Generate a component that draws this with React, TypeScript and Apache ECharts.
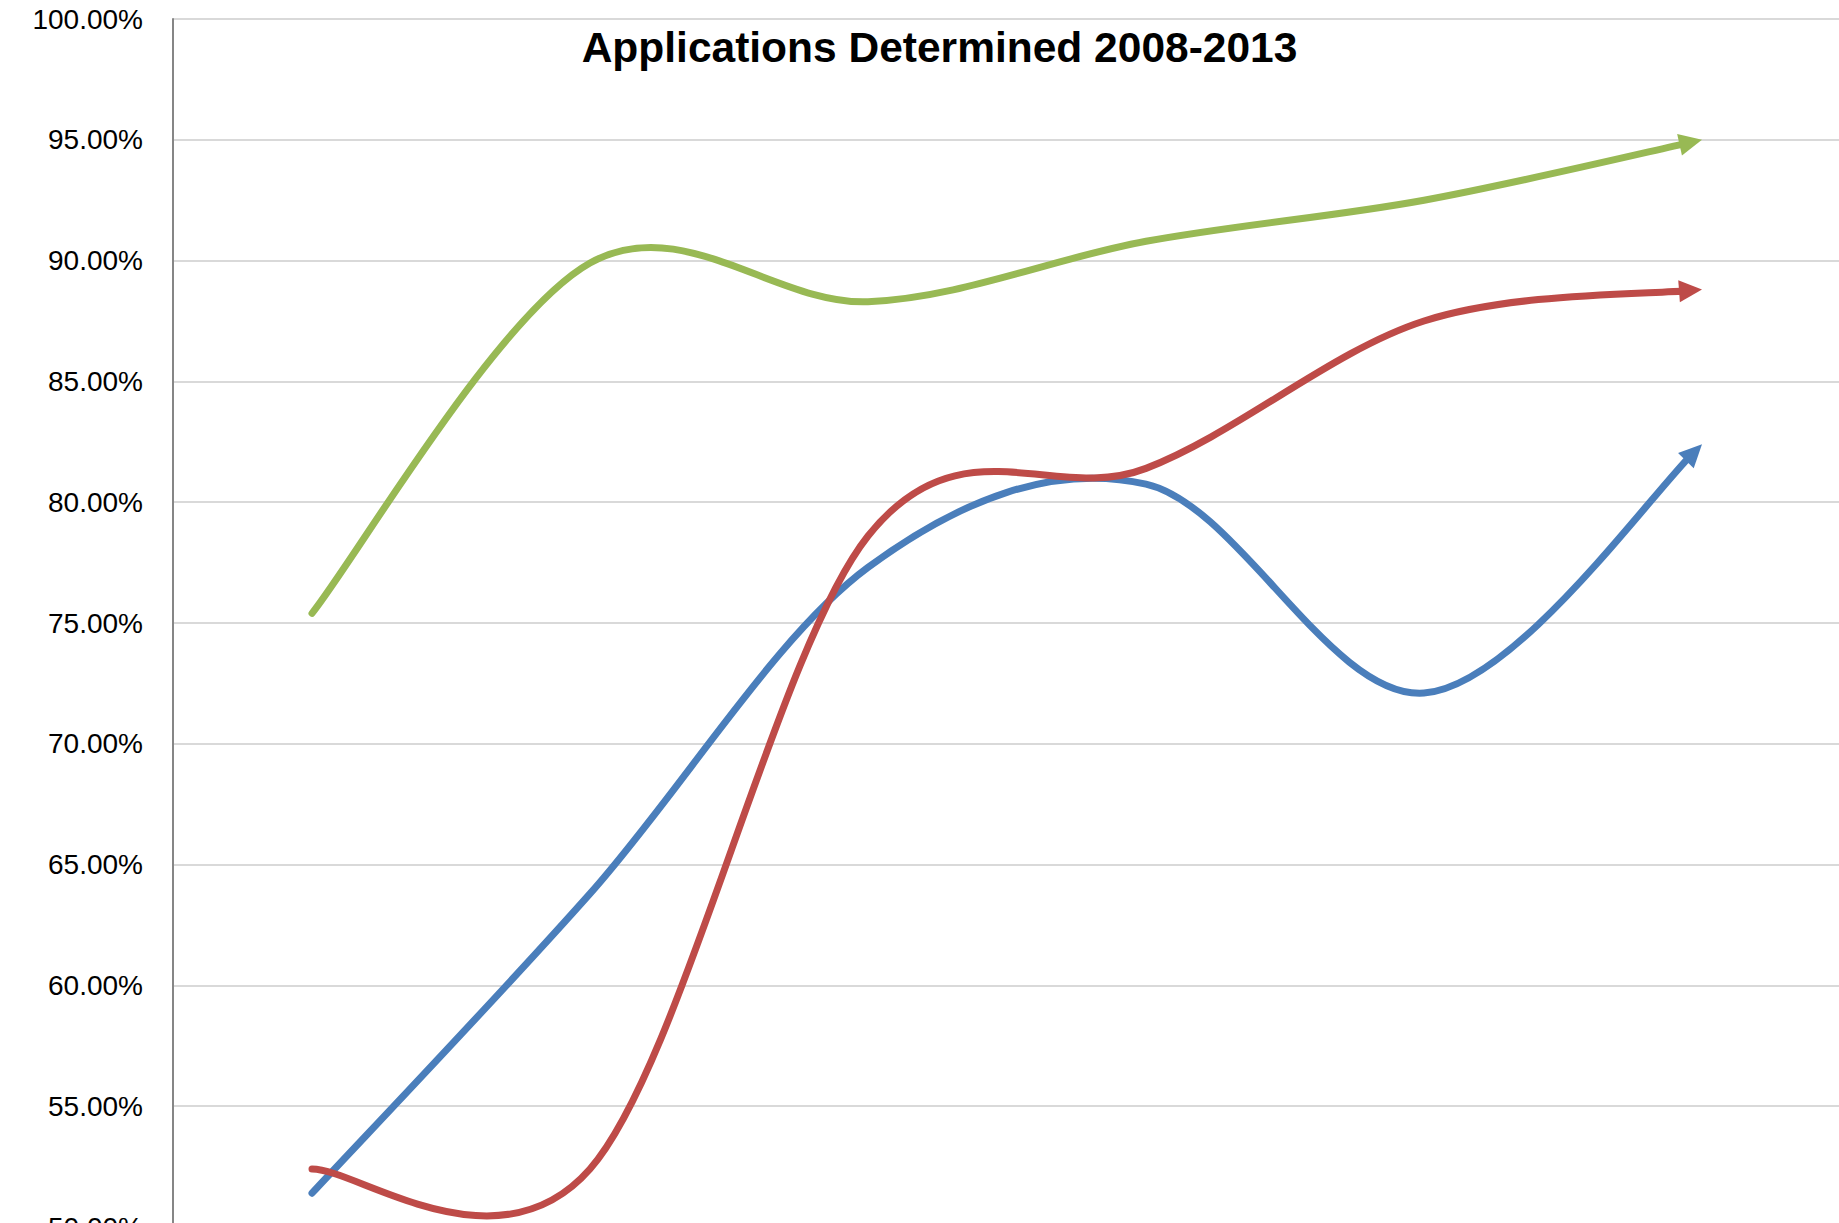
import React, { useEffect, useRef } from "react";
import * as echarts from "echarts";

// ---------- data ----------
const years = ["2008", "2009", "2010", "2011", "2012", "2013"];
const seriesNames = ["Series1", "Series2", "Series3"];
const blueValues = [51.4, 63.8, 77.3, 80.75, 72.1, 82.4];
const redValues = [52.4, 52.4, 78.6, 81.4, 87.5, 88.8];
const greenValues = [75.4, 89.9, 88.3, 90.8, 92.5, 95.0];
const yMin = 50;
const yMax = 100;
const yStep = 5;
const titleText = "Applications Determined 2008-2013";

// ---------- styles ----------
const COLORS = ["#4A7EBB", "#BE4B48", "#98B954"];
const LINE_W = 7;
const ARROW_LEN = 23;
const ARROW_W = 22;

type P = [number, number];
type Seg = [P, P, P, P];

function catmullSegments(pts: P[]): Seg[] {
  const segs: Seg[] = [];
  for (let i = 0; i < pts.length - 1; i++) {
    const p0 = pts[Math.max(i - 1, 0)];
    const p1 = pts[i];
    const p2 = pts[i + 1];
    const p3 = pts[Math.min(i + 2, pts.length - 1)];
    const c1: P = [p1[0] + (p2[0] - p0[0]) / 6, p1[1] + (p2[1] - p0[1]) / 6];
    const c2: P = [p2[0] - (p3[0] - p1[0]) / 6, p2[1] - (p3[1] - p1[1]) / 6];
    segs.push([p1, c1, c2, p2]);
  }
  return segs;
}

function lerp(a: P, b: P, t: number): P {
  return [a[0] + (b[0] - a[0]) * t, a[1] + (b[1] - a[1]) * t];
}

function bezAt(s: Seg, t: number): P {
  const a = lerp(s[0], s[1], t);
  const b = lerp(s[1], s[2], t);
  const c = lerp(s[2], s[3], t);
  const d = lerp(a, b, t);
  const e = lerp(b, c, t);
  return lerp(d, e, t);
}

function splitFirst(s: Seg, t: number): Seg {
  const a = lerp(s[0], s[1], t);
  const b = lerp(s[1], s[2], t);
  const c = lerp(s[2], s[3], t);
  const d = lerp(a, b, t);
  const e = lerp(b, c, t);
  const f = lerp(d, e, t);
  return [s[0], a, d, f];
}

function dist(a: P, b: P) {
  return Math.hypot(a[0] - b[0], a[1] - b[1]);
}

function findT(s: Seg, tip: P, d: number) {
  for (let t = 1; t >= 0; t -= 0.002) {
    if (dist(bezAt(s, t), tip) >= d) return t;
  }
  return 0;
}

function makeRenderItem(values: number[], color: string) {
  return (params: any, api: any) => {
    if (params.dataIndex !== 0) return null;
    const pts: P[] = values.map((v, i) => api.coord([i, v]) as P);
    const segs = catmullSegments(pts);
    const last = segs[segs.length - 1];
    const tip = last[3];
    const tBack = findT(last, tip, ARROW_LEN);
    const tCut = findT(last, tip, ARROW_LEN * 0.55);
    const back = bezAt(last, tBack);
    const len = dist(tip, back) || 1;
    const ux = (tip[0] - back[0]) / len;
    const uy = (tip[1] - back[1]) / len;
    const bx = tip[0] - ux * ARROW_LEN;
    const by = tip[1] - uy * ARROW_LEN;
    const px = -uy * (ARROW_W / 2);
    const py = ux * (ARROW_W / 2);

    let d = `M${pts[0][0]},${pts[0][1]}`;
    segs.forEach((s, i) => {
      const seg = i === segs.length - 1 ? splitFirst(s, tCut) : s;
      d += ` C${seg[1][0]},${seg[1][1]} ${seg[2][0]},${seg[2][1]} ${seg[3][0]},${seg[3][1]}`;
    });

    return {
      type: "group",
      children: [
        {
          type: "path",
          shape: { pathData: d },
          style: {
            fill: "none",
            stroke: color,
            lineWidth: LINE_W,
            lineCap: "round",
            lineJoin: "round",
          },
        },
        {
          type: "polygon",
          shape: {
            points: [
              [tip[0], tip[1]],
              [bx + px, by + py],
              [bx - px, by - py],
            ],
          },
          style: { fill: color },
        },
      ],
    };
  };
}

export default function App() {
  const ref = useRef<HTMLDivElement>(null);

  useEffect(() => {
    if (!ref.current) return;
    const chart = echarts.init(ref.current, undefined, { renderer: "svg" });
    const all = [blueValues, redValues, greenValues];
    chart.setOption({
      animation: false,
      backgroundColor: "#ffffff",
      grid: { left: 173, top: 19, width: 1668, height: 1208, containLabel: false },
      xAxis: {
        type: "category",
        data: years,
        boundaryGap: true,
        axisLine: { show: false },
        axisTick: { show: false },
        axisLabel: { show: false },
        splitLine: { show: false },
      },
      yAxis: {
        type: "value",
        min: yMin,
        max: yMax,
        interval: yStep,
        axisLine: { show: true, lineStyle: { color: "#868686", width: 2 } },
        axisTick: { show: false },
        axisLabel: {
          formatter: (v: number) => v.toFixed(2) + "%",
          fontFamily: "Liberation Sans",
          fontSize: 28,
          color: "#000000",
          margin: 30,
        },
        splitLine: { show: true, lineStyle: { color: "#D9D9D9", width: 2 } },
      },
      graphic: [
        {
          type: "text",
          x: 939.5,
          y: 47,
          z: 100,
          style: {
            text: titleText,
            font: 'bold 42.5px "Liberation Sans"',
            fill: "#000000",
            align: "center",
            verticalAlign: "middle",
            textAlign: "center",
            textVerticalAlign: "middle",
          },
        },
      ],
      series: all.map((vals, k) => ({
        type: "custom",
        name: seriesNames[k],
        data: vals.map((v, i) => [i, v]),
        encode: { x: 0, y: 1 },
        renderItem: makeRenderItem(vals, COLORS[k]),
        z: 2 + k,
      })),
    });
    return () => chart.dispose();
  }, []);

  return (
    <div
      style={{
        position: "fixed",
        left: 0,
        top: 0,
        width: 1839,
        height: 1223,
        overflow: "hidden",
        background: "#fff",
      }}
    >
      <div ref={ref} style={{ width: 1900, height: 1300 }} />
    </div>
  );
}
